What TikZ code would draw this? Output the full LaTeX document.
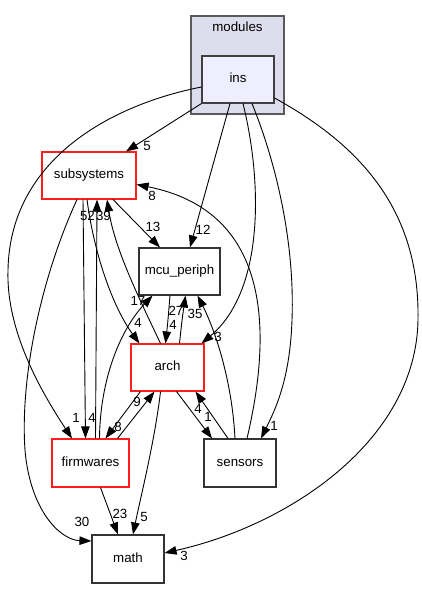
\documentclass[tikz,border=0pt]{standalone}
\usepackage{fontspec}
\setmainfont{Liberation Sans}
\usetikzlibrary{arrows.meta,calc}
\definecolor{clusterfill}{RGB}{221,221,238}
\definecolor{clusterline}{RGB}{90,90,90}
\definecolor{insfill}{RGB}{238,238,255}
\definecolor{dirred}{RGB}{255,30,30}
\begin{document}
\begin{tikzpicture}[x=1pt,y=-1pt,
  txt/.style={font=\fontsize{13.3}{16}\selectfont, text height=9.6pt, text depth=2.8pt},
  dirbox/.style={txt, draw=black!80, line width=1.1pt, fill=white, inner sep=0pt},
  redbox/.style={dirbox, draw=dirred},
  cluster/.style={draw=clusterline, line width=1.1pt, fill=clusterfill, inner sep=0pt},
  lbl/.style={txt, inner sep=0pt},
  dep/.style={line width=0.9pt, -{Triangle[length=12pt,width=8.5pt]}}]
\fill[white] (0,0) rectangle (422,589);
\useasboundingbox (0,0) rectangle (422,589);

% cluster
\node[cluster, minimum width=93pt, minimum height=98pt] (modules) at (237.5,65) {};
\node[lbl] (modtitle) at (237.5,28) {modules};
\node[dirbox, fill=insfill, draw=black!75, minimum width=72pt, minimum height=47pt] (ins) at (238,79.5) {ins};

% nodes
\node[redbox, minimum width=94pt, minimum height=47pt] (subsystems) at (89,175.5) {subsystems};
\node[dirbox, minimum width=81pt, minimum height=47pt] (mcu) at (179.5,271.5) {mcu\_periph};
\node[redbox, minimum width=73pt, minimum height=47pt] (arch) at (167.5,367.5) {arch};
\node[redbox, minimum width=77pt, minimum height=48pt] (firmwares) at (90.5,463) {firmwares};
\node[dirbox, minimum width=72pt, minimum height=48pt] (sensors) at (240,463) {sensors};
\node[dirbox, minimum width=72pt, minimum height=48pt] (math) at (128,559) {math};

% edges from ins
\draw[dep] (ins.south west) -- ($(subsystems.north)+(37,0)$)
  node[lbl] at (147,147) {5};
\draw[dep] ($(ins.west)+(0,7.5)$) .. controls (110,105) and (10,160) .. (8,270)
  .. controls (6,330) and (40,390) .. ($(firmwares.north)+(-18.5,0)$)
  node[lbl] at (76,419) {1};
\draw[dep] ($(ins.south)+(-8,0)$) -- ($(mcu.north)+(10.5,0)$)
  node[lbl] at (203,231) {12};
\draw[dep] ($(ins.south)+(5,0)$) .. controls (262,180) and (265,290) .. ($(arch.north east)+(-3,0)$)
  node[lbl] at (218,338) {3};
\draw[dep] ($(ins.south)+(14,0)$) .. controls (275,160) and (295,240) .. (292,320)
  .. controls (290,380) and (275,410) .. ($(sensors.north)+(21,0)$)
  node[lbl] at (274,427) {1};
\draw[dep] ($(ins.east)+(0,18.5)$) .. controls (360,145) and (420,210) .. (418,320)
  .. controls (416,440) and (290,525) .. ($(math.east)+(0,-6)$)
  node[lbl] at (184,557) {3};

% edges from subsystems
\draw[dep] ($(subsystems.south)+(24,0)$) -- ($(mcu.north)+(-19.5,0)$)
  node[lbl] at (153,228) {13};
\draw[dep] ($(subsystems.south)+(-2,0)$) .. controls (95,260) and (115,310) .. ($(arch.north west)+(9,0)$)
  node[lbl] at (138,324) {4};
\draw[dep] ($(subsystems.south)+(-6,0)$) -- ($(firmwares.north)+(-5,0)$)
  node[lbl] at (92,419) {4};
\draw[dep] ($(subsystems.south)+(-12,0)$) .. controls (40,280) and (20,380) .. (25,450)
  .. controls (30,510) and (60,540) .. ($(math.west)+(0,-18)$)
  node[lbl] at (82,523) {30};

% edges into subsystems
\draw[dep] ($(firmwares.north)+(5,0)$) -- ($(subsystems.south)+(8,0)$)
  node[lbl] at (87.5,217) {52};
\draw[dep] ($(arch.north)+(-7,0)$) .. controls (140,300) and (115,250) .. ($(subsystems.south)+(18,0)$)
  node[lbl] at (103.5,217) {39};
\draw[dep] ($(sensors.north)+(7,0)$) .. controls (275,320) and (265,210) .. ($(subsystems.east)+(0,9)$)
  node[lbl] at (152,197) {8};

% mcu_periph <-> arch, sensors, firmwares
\draw[dep] ($(arch.north)+(12,0)$) .. controls (182,320) .. ($(mcu.south)+(6,0)$)
  node[lbl] at (176,312) {27};
\draw[dep] ($(mcu.south)+(-9.5,0)$) .. controls (168,320) .. ($(arch.north)+(-2,0)$)
  node[lbl] at (173,326) {4};
\draw[dep] ($(sensors.north)+(-5,0)$) .. controls (232,380) and (215,330) .. ($(mcu.south)+(18,0)$)
  node[lbl] at (195,315) {35};
\draw[dep] ($(firmwares.north)+(9,0)$) .. controls (100,380) and (120,330) .. ($(mcu.south)+(-27,0)$)
  node[lbl] at (138,302) {17};

% arch <-> firmwares, sensors, math
\draw[dep] ($(arch.south west)+(10,0)$) -- ($(firmwares.north)+(15,0)$)
  node[lbl] at (118,428) {8};
\draw[dep] ($(firmwares.north)+(27,0)$) -- ($(arch.south)+(-13,0)$)
  node[lbl] at (137,403) {9};
\draw[dep] ($(arch.south)+(-7,0)$) .. controls (155,440) and (140,500) .. ($(math.north)+(5,0)$)
  node[lbl] at (144,518) {5};
\draw[dep] ($(arch.south)+(9,0)$) -- ($(sensors.north)+(-28,0)$)
  node[lbl] at (208,418) {1};
\draw[dep] ($(sensors.north)+(-12,0)$) -- ($(arch.south east)+(-9,0)$)
  node[lbl] at (198,410) {4};
\draw[dep] ($(firmwares.south)+(10,0)$) -- ($(math.north)+(-10,0)$)
  node[lbl] at (120,515) {23};
\end{tikzpicture}
\end{document}
